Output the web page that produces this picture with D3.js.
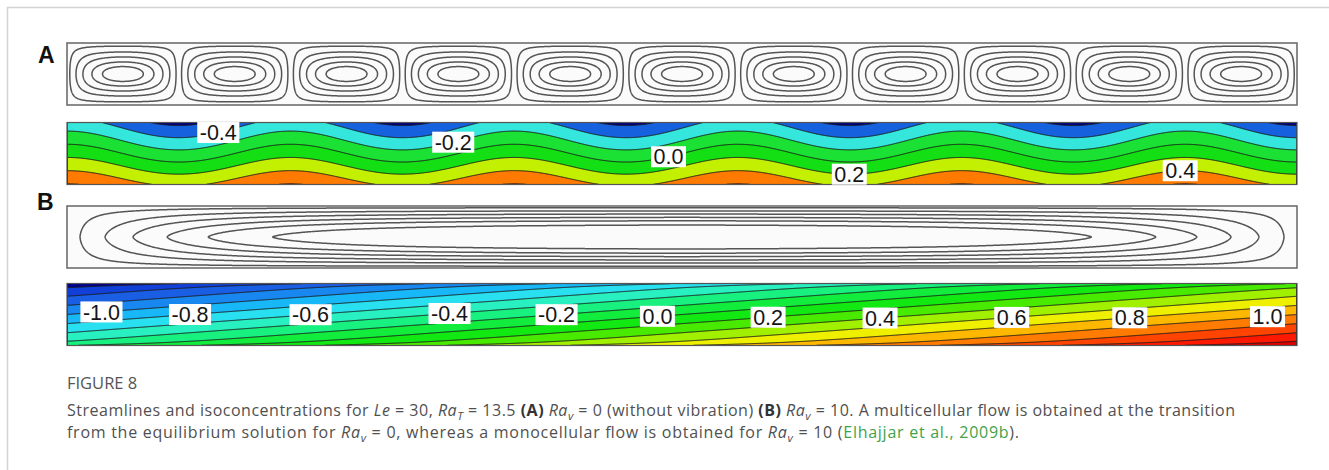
<!DOCTYPE html>
<html><head><meta charset="utf-8">
<script src="https://cdn.jsdelivr.net/npm/d3@7"></script>
<style>body{margin:0;background:#fff}svg{display:block}</style>
</head><body>
<svg id="c" width="1329" height="470"></svg>
<script>
// ---------------- DATA ----------------
// (A) multicellular flow
const cellCountA = 11;
const streamLevelsA = [0.16, 0.44, 0.65, 0.82, 0.93];
const isoLevelsA = [-0.6, -0.4, -0.2, 0.0, 0.2, 0.4, 0.6];
const isoColorsA = ["#00007a", "#1661dd", "#35e6dc", "#1be134", "#14df14", "#c3f000", "#ff7a00", "#960000"];
const labelValuesA = [-0.4, -0.2, 0.0, 0.2, 0.4];
const labelPosA = [0.123, 0.314, 0.489, 0.636, 0.905];
const gradA = 0.98, waveTopA = 0.16, waveBotA = 0.12;
// (B) monocellular flow
const streamLevelsB = [0.083, 0.224, 0.356, 0.487, 0.61, 0.746];
const isoLevelsB = [-1.6, -1.4, -1.2, -1.0, -0.8, -0.6, -0.4, -0.2, 0.0, 0.2, 0.4, 0.6, 0.8, 1.0, 1.2, 1.4, 1.6];
const isoColorsB = ["#00008c", "#1040d8", "#1a5ee4", "#1888f0", "#18b8f8", "#28e0f0", "#28f0c0", "#18f080", "#12ec3c", "#12e812",
                    "#48ea00", "#a0f000", "#eef000", "#ffb800", "#ff7c00", "#ff4400", "#ff1800", "#e00000"];
const labelValuesB = [-1.0, -0.8, -0.6, -0.4, -0.2, 0.0, 0.2, 0.4, 0.6, 0.8, 1.0];
const labelPosB = [0.028, 0.100, 0.198, 0.311, 0.398, 0.480, 0.570, 0.661, 0.768, 0.864, 0.976];
const gradBx = 2.0, gradBy = 0.68, wallB = 0.12;

// ---------------- FIELDS (model shapes, evaluated on a grid) ----------------
const fieldStreamA = (u, v) => {
  const t = Math.abs(2 * ((u * cellCountA) % 1) - 1);
  const P = 0.5 * t * t + 0.5 * Math.pow(t, 5);
  return (1 - P) * Math.sin(Math.PI * v);
};
const fieldIsoA = (u, v) => gradA * (v - 0.5) + (waveTopA + (waveBotA - waveTopA) * v) * Math.cos(Math.PI * u * cellCountA);
const fieldStreamB = (u, v) => { const d = Math.min(u, 1 - u) * 1230; return (1 - Math.exp(-d / 150)) * (1 - Math.pow(Math.abs(2*v - 1), 1.5)); };
const fieldIsoB = (u, v) => { const s = 2*v - 1; return -1.0 + gradBx * u + gradBy * s + wallB * Math.pow(s, 15); };

// ---------------- LAYOUT ----------------
const svg = d3.select("#c");
const X0 = 67, X1 = 1297, PH = 62;
const x = d3.scaleLinear().domain([0, 1]).range([X0, X1]);
const NX = 1230, NY = 124;
const labelFont = "Liberation Sans, Arial, Helvetica, sans-serif";

svg.append("rect").attr("x", 7.5).attr("y", 7.5).attr("width", 1500).attr("height", 700)
  .attr("fill", "none").attr("stroke", "#d4d4d4").attr("stroke-width", 1.5);

function grid(fn) {
  const a = new Float64Array(NX * NY);
  for (let j = 0; j < NY; j++) for (let i = 0; i < NX; i++) a[j*NX + i] = fn((i + 0.5) / NX, (j + 0.5) / NY);
  return a;
}
function pathFor(y) {
  return d3.geoPath(d3.geoTransform({ point(px, py) { this.stream.point(x(px / NX), y(py / NY)); } }));
}
let clipId = 0;
function streamPanel(top, fn, levels) {
  const y = d3.scaleLinear().domain([0, 1]).range([top, top + PH]);
  const g = svg.append("g");
  g.append("rect").attr("x", X0).attr("y", top).attr("width", X1 - X0).attr("height", PH).attr("fill", "#fbfbfb");
  const cs = d3.contours().size([NX, NY]).thresholds(levels)(grid(fn));
  g.selectAll("path").data(cs).join("path").attr("d", pathFor(y))
    .attr("fill", "none").attr("stroke", "#555").attr("stroke-width", 1.5);
  g.append("rect").attr("x", X0).attr("y", top).attr("width", X1 - X0).attr("height", PH)
    .attr("fill", "none").attr("stroke", "#6e6e6e").attr("stroke-width", 1.6);
}
function isoPanel(top, fn, levels, colors, labVals, labPos) {
  const y = d3.scaleLinear().domain([0, 1]).range([top, top + PH]);
  const id = "clip" + (clipId++);
  svg.append("clipPath").attr("id", id).append("rect").attr("x", X0).attr("y", top).attr("width", X1 - X0).attr("height", PH);
  const g = svg.append("g").attr("clip-path", `url(#${id})`);
  g.append("rect").attr("x", X0).attr("y", top).attr("width", X1 - X0).attr("height", PH).attr("fill", colors[0]);
  const cs = d3.contours().size([NX, NY]).thresholds(levels)(grid(fn));
  const p = pathFor(y);
  g.selectAll("path.f").data(cs).join("path").attr("class", "f").attr("d", p)
    .attr("fill", (d, i) => colors[i + 1]).attr("stroke", "none");
  g.selectAll("path.l").data(cs).join("path").attr("class", "l").attr("d", p)
    .attr("fill", "none").attr("stroke", "#1c1c1c").attr("stroke-width", 1);
  svg.append("rect").attr("x", X0).attr("y", top).attr("width", X1 - X0).attr("height", PH)
    .attr("fill", "none").attr("stroke", "#555").attr("stroke-width", 1.2);
  labVals.forEach((val, k) => {
    const u = labPos[k];
    let lo = 0, hi = 1;
    for (let it = 0; it < 40; it++) { const m = (lo + hi) / 2; if (fn(u, m) < val) lo = m; else hi = m; }
    const cx = x(u), cy = y((lo + hi) / 2);
    const t = svg.append("text").attr("x", cx).attr("y", cy + 7.6).attr("text-anchor", "middle")
      .attr("font-family", labelFont).attr("font-size", 21.5).attr("fill", "#151515")
      .text(val.toFixed(1));
    const b = t.node().getBBox();
    svg.insert("rect", () => t.node()).attr("x", b.x - 2.5).attr("y", cy - 10.5).attr("width", b.width + 5).attr("height", 21).attr("fill", "#fff");
  });
}

streamPanel(43, fieldStreamA, streamLevelsA);
isoPanel(122.5, fieldIsoA, isoLevelsA, isoColorsA, labelValuesA, labelPosA);
streamPanel(206, fieldStreamB, streamLevelsB);
isoPanel(283.5, fieldIsoB, isoLevelsB, isoColorsB, labelValuesB, labelPosB);

svg.append("text").attr("x", 38).attr("y", 63).attr("font-family", labelFont)
  .attr("font-weight", "bold").attr("font-size", 23).attr("fill", "#111").text("A");
svg.append("text").attr("x", 37).attr("y", 210).attr("font-family", labelFont)
  .attr("font-weight", "bold").attr("font-size", 23).attr("fill", "#111").text("B");

// ---------------- CAPTION ----------------
const capFont = "Open Sans, Lato, sans-serif";
svg.append("text").attr("x", 67).attr("y", 389).attr("font-family", capFont).attr("font-size", 16.5)
  .attr("fill", "#555").text("FIGURE 8");
function capLine(yb, parts, len) {
  const t = svg.append("text").attr("x", 67).attr("y", yb).attr("font-family", capFont).attr("font-size", 16).attr("fill", "#505050");
  parts.forEach(p => {
    const s = t.append("tspan").text(p.t);
    if (p.i) s.attr("font-style", "italic");
    if (p.b) s.attr("font-weight", "bold").attr("fill", "#333");
    if (p.sub) s.attr("font-size", 11.5).attr("dy", 3.5);
    if (p.up) s.attr("dy", -3.5);
    if (p.g) s.attr("fill", "#3fa24a");
  });
  if (len) t.attr("textLength", len).attr("lengthAdjust", "spacing");
}
capLine(416, [
  {t: "Streamlines and isoconcentrations for "}, {t: "Le", i: 1}, {t: " = 30, "}, {t: "Ra", i: 1}, {t: "T", i: 1, sub: 1},
  {t: " = 13.5 ", up: 1}, {t: "(A)", b: 1}, {t: " "}, {t: "Ra", i: 1}, {t: "v", i: 1, sub: 1}, {t: " = 0 (without vibration) ", up: 1},
  {t: "(B)", b: 1}, {t: " "}, {t: "Ra", i: 1}, {t: "v", i: 1, sub: 1}, {t: " = 10. A multicellular flow is obtained at the transition", up: 1}
], 1168);
capLine(438, [
  {t: "from the equilibrium solution for "}, {t: "Ra", i: 1}, {t: "v", i: 1, sub: 1},
  {t: " = 0, whereas a monocellular flow is obtained for ", up: 1}, {t: "Ra", i: 1}, {t: "v", i: 1, sub: 1},
  {t: " = 10 (", up: 1}, {t: "Elhajjar et al., 2009b", g: 1}, {t: ")."}
], 952);
</script>
</body></html>
